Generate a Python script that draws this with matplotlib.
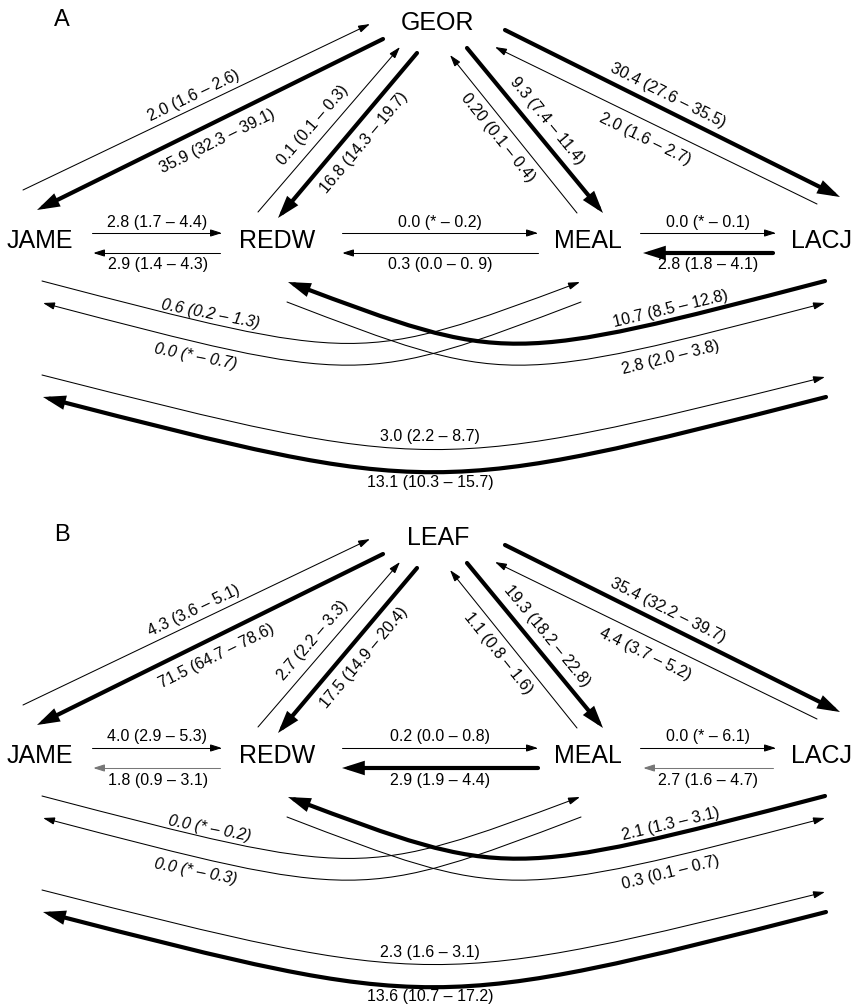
import numpy as np
import matplotlib.pyplot as plt
from matplotlib.patches import FancyArrowPatch
from matplotlib.path import Path

plt.rcParams['font.family'] = ['Liberation Sans', 'DejaVu Sans']

# ---- data: migration rates (estimate, lower, upper), '*' = not estimable
panel_tags = ["A", "B"]
hub_names = ["GEOR", "LEAF"]
site_names = ["JAME", "REDW", "MEAL", "LACJ"]

edge_from = ["JAME", "HUB", "REDW", "HUB", "MEAL", "HUB", "HUB", "LACJ",
             "JAME", "REDW", "REDW", "MEAL", "MEAL", "LACJ",
             "JAME", "MEAL", "LACJ", "REDW", "JAME", "LACJ"]
edge_to = ["HUB", "JAME", "HUB", "REDW", "HUB", "MEAL", "LACJ", "HUB",
           "REDW", "JAME", "MEAL", "REDW", "LACJ", "MEAL",
           "MEAL", "JAME", "REDW", "LACJ", "LACJ", "JAME"]

est_A = ["2.0", "35.9", "0.1", "16.8", "0.20", "9.3", "30.4", "2.0",
         "2.8", "2.9", "0.0", "0.3", "0.0", "2.8",
         "0.6", "0.0", "10.7", "2.8", "3.0", "13.1"]
lo_A = ["1.6", "32.3", "0.1", "14.3", "0.1", "7.4", "27.6", "1.6",
        "1.7", "1.4", "*", "0.0", "*", "1.8",
        "0.2", "*", "8.5", "2.0", "2.2", "10.3"]
hi_A = ["2.6", "39.1", "0.3", "19.7", "0.4", "11.4", "35.5", "2.7",
        "4.4", "4.3", "0.2", "0. 9", "0.1", "4.1",
        "1.3", "0.7", "12.8", "3.8", "8.7", "15.7"]
major_A = [0, 1, 0, 1, 0, 1, 1, 0, 0, 0, 0, 0, 0, 1, 0, 0, 1, 0, 0, 1]

est_B = ["4.3", "71.5", "2.7", "17.5", "1.1", "19.3", "35.4", "4.4",
         "4.0", "1.8", "0.2", "2.9", "0.0", "2.7",
         "0.0", "0.0", "2.1", "0.3", "2.3", "13.6"]
lo_B = ["3.6", "64.7", "2.2", "14.9", "0.8", "18.2", "32.2", "3.7",
        "2.9", "0.9", "0.0", "1.9", "*", "1.6",
        "*", "*", "1.3", "0.1", "1.6", "10.7"]
hi_B = ["5.1", "78.6", "3.3", "20.4", "1.6", "22.8", "39.7", "5.2",
        "5.3", "3.1", "0.8", "4.4", "6.1", "4.7",
        "0.2", "0.3", "3.1", "0.7", "3.1", "17.2"]
major_B = [0, 1, 0, 1, 0, 1, 1, 0, 0, 0, 0, 1, 0, 0, 0, 0, 1, 0, 0, 1]

panels = [(est_A, lo_A, hi_A, major_A), (est_B, lo_B, hi_B, major_B)]

# ---- layout (pixel space of panel A, panel B shifted down)
panel_dy = [0, 515]
node_xy = {"HUB": (438, 30), "JAME": (40, 248), "REDW": (277, 248),
           "MEAL": (588, 248), "LACJ": (822, 248)}
tag_xy = (62, 20)

geom = {
    ("JAME", "HUB"): [(23, 190), (370, 24)],
    ("HUB", "JAME"): [(383, 39), (37, 210)],
    ("REDW", "HUB"): [(258, 212), (400, 47)],
    ("HUB", "REDW"): [(417, 53), (278, 218)],
    ("MEAL", "HUB"): [(577, 213), (450, 55)],
    ("HUB", "MEAL"): [(467, 48), (603, 213)],
    ("HUB", "LACJ"): [(505, 30), (840, 197)],
    ("LACJ", "HUB"): [(817, 204), (495, 47)],
    ("JAME", "REDW"): [(92, 233), (222, 233)],
    ("REDW", "JAME"): [(220, 253), (93, 253)],
    ("REDW", "MEAL"): [(342, 233), (538, 233)],
    ("MEAL", "REDW"): [(538, 253), (342, 253)],
    ("MEAL", "LACJ"): [(640, 233), (776, 233)],
    ("LACJ", "MEAL"): [(773, 253), (643, 253)],
    ("JAME", "MEAL"): [(42, 281), (360, 364), (580, 282)],
    ("MEAL", "JAME"): [(581, 302), (360, 386), (43, 303)],
    ("LACJ", "REDW"): [(825, 281), (506, 364), (288, 282)],
    ("REDW", "LACJ"): [(287, 302), (506, 386), (825, 303)],
    ("JAME", "LACJ"): [(42, 375), (433, 474), (825, 377)],
    ("LACJ", "JAME"): [(826, 397), (433, 497), (43, 397)],
}
label_xy = {
    ("JAME", "HUB"): (194, 96), ("HUB", "JAME"): (217, 141),
    ("REDW", "HUB"): (313, 125), ("HUB", "REDW"): (364, 143),
    ("MEAL", "HUB"): (498, 138), ("HUB", "MEAL"): (547, 121),
    ("HUB", "LACJ"): (668, 96), ("LACJ", "HUB"): (645, 139),
    ("JAME", "REDW"): (157, 222), ("REDW", "JAME"): (158, 265),
    ("REDW", "MEAL"): (440, 222), ("MEAL", "REDW"): (440, 265),
    ("MEAL", "LACJ"): (708, 222), ("LACJ", "MEAL"): (708, 265),
    ("JAME", "MEAL"): (210, 314), ("MEAL", "JAME"): (196, 357),
    ("LACJ", "REDW"): (671, 309), ("REDW", "LACJ"): (671, 358),
    ("JAME", "LACJ"): (430, 437), ("LACJ", "JAME"): (430, 482),
}
curve_rot = {("JAME", "MEAL"): -11, ("MEAL", "JAME"): -11,
             ("LACJ", "REDW"): 13.5, ("REDW", "LACJ"): 14,
             ("JAME", "LACJ"): 0, ("LACJ", "JAME"): 0}
italic_edges = [("JAME", "MEAL"), ("MEAL", "JAME")]
grey_edges = [(1, ("REDW", "JAME")), (1, ("LACJ", "MEAL"))]

fig = plt.figure(figsize=(8.56, 10.08), dpi=100)
ax = fig.add_axes([0, 0, 1, 1])
ax.set_xlim(0, 856)
ax.set_ylim(1008, 0)
ax.axis('off')

for p, (est, lo, hi, major) in enumerate(panels):
    dy = panel_dy[p]
    ax.text(tag_xy[0], tag_xy[1] + dy, panel_tags[p], fontsize=17,
            ha='center', va='center')
    names = {"HUB": hub_names[p]}
    names.update({s: s for s in site_names})
    for key, (x, y) in node_xy.items():
        ax.text(x, y + dy, names[key], fontsize=18, ha='center', va='baseline')

    for i in range(len(edge_from)):
        key = (edge_from[i], edge_to[i])
        pts = np.array(geom[key], dtype=float)
        pts[:, 1] += dy
        thick = bool(major[i])
        if len(pts) == 2:
            path = Path(pts, [Path.MOVETO, Path.LINETO])
        else:
            verts = [pts[0], pts[1], pts[1], pts[2]]
            path = Path(verts, [Path.MOVETO, Path.CURVE4, Path.CURVE4, Path.CURVE4])
        if thick:
            style = "-|>,head_length=1.0,head_width=0.32"
            lw = 3.0
        else:
            style = "-|>,head_length=0.7,head_width=0.22"
            lw = 0.75
        col = '#777777' if (p, key) in grey_edges else 'black'
        arr = FancyArrowPatch(path=path, arrowstyle=style, mutation_scale=10,
                              lw=lw, color=col, joinstyle='miter')
        ax.add_patch(arr)

        # label
        lx, ly = label_xy[key]
        if key in curve_rot:
            rot = curve_rot[key]
        else:
            (x0, y0), (x1, y1) = geom[key]
            rot = np.degrees(np.arctan2(-(y1 - y0), x1 - x0))
            if rot > 90:
                rot -= 180
            elif rot < -90:
                rot += 180
        txt = f"{est[i]} ({lo[i]} \u2013 {hi[i]})"
        ax.text(lx, ly + dy, txt, fontsize=11.5, ha='center', va='center',
                rotation=rot, rotation_mode='anchor',
                style='italic' if key in italic_edges else 'normal')

fig.savefig("out.png", dpi=100)
